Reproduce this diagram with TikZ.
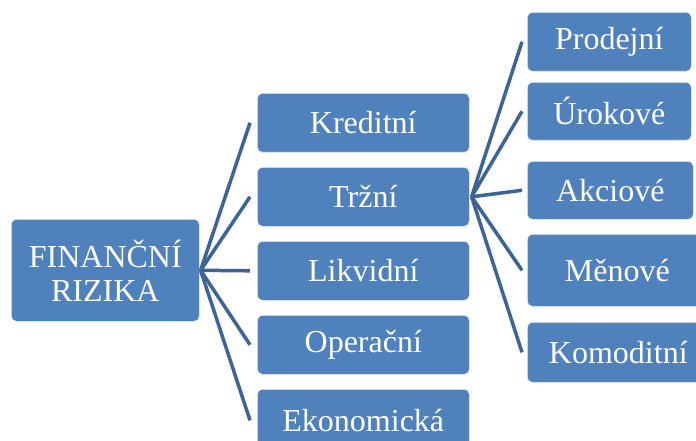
\documentclass[tikz,border=0pt]{standalone}
\usepackage{fontspec}
\setmainfont{Liberation Serif}
\definecolor{boxblue}{RGB}{79,129,189}
\definecolor{linkblue}{RGB}{60,100,150}
\begin{document}
\begin{tikzpicture}[x=1pt,y=-1pt,
  box/.style={draw=white!85!boxblue, line width=0.6pt, fill=boxblue, rounded corners=5pt,
    text=white, inner sep=0pt, anchor=north west, align=center,
    font=\fontsize{32}{34}\selectfont},
  link/.style={draw=linkblue, line width=3.5pt}]
\useasboundingbox (0,0) rectangle (696,441);
\clip (0,0) rectangle (696,441);

% root
\node[box, minimum width=188pt, minimum height=102pt] (root) at (11,219) {FINANČNÍ\\RIZIKA};

% second level
\node[box, minimum width=212pt, minimum height=59pt] (kred) at (257,93)  {Kreditní};
\node[box, minimum width=212pt, minimum height=59pt] (trzn) at (257,167) {Tržní};
\node[box, minimum width=212pt, minimum height=59pt] (likv) at (257,241) {Likvidní};
\node[box, minimum width=212pt, minimum height=59pt] (oper) at (257,315) {Operační};
\node[box, minimum width=212pt, minimum height=62pt] (ekon) at (257,389) {Ekonomická};

% third level (market risks)
\node[box, minimum width=164pt, minimum height=59pt] (prod) at (527,12)  {Prodejní};
\node[box, minimum width=164pt, minimum height=58pt] (urok) at (527,82)  {Úrokové};
\node[box, minimum width=166pt, minimum height=58pt] (akci) at (527,161) {Akciové};
\node[box, minimum width=180pt, minimum height=72pt] (meno) at (527,234) {Měnové};
\node[box, minimum width=182pt, minimum height=60pt] (komo) at (527,322) {Komoditní};

% connectors
\foreach \c in {kred,trzn,likv,oper,ekon}
  \draw[link] ([xshift=1pt]root.east) -- ([xshift=-7pt]\c.west);
\foreach \c in {prod,urok,akci,meno,komo}
  \draw[link] ([xshift=2pt]trzn.east) -- ([xshift=-5pt]\c.west);
\end{tikzpicture}
\end{document}
